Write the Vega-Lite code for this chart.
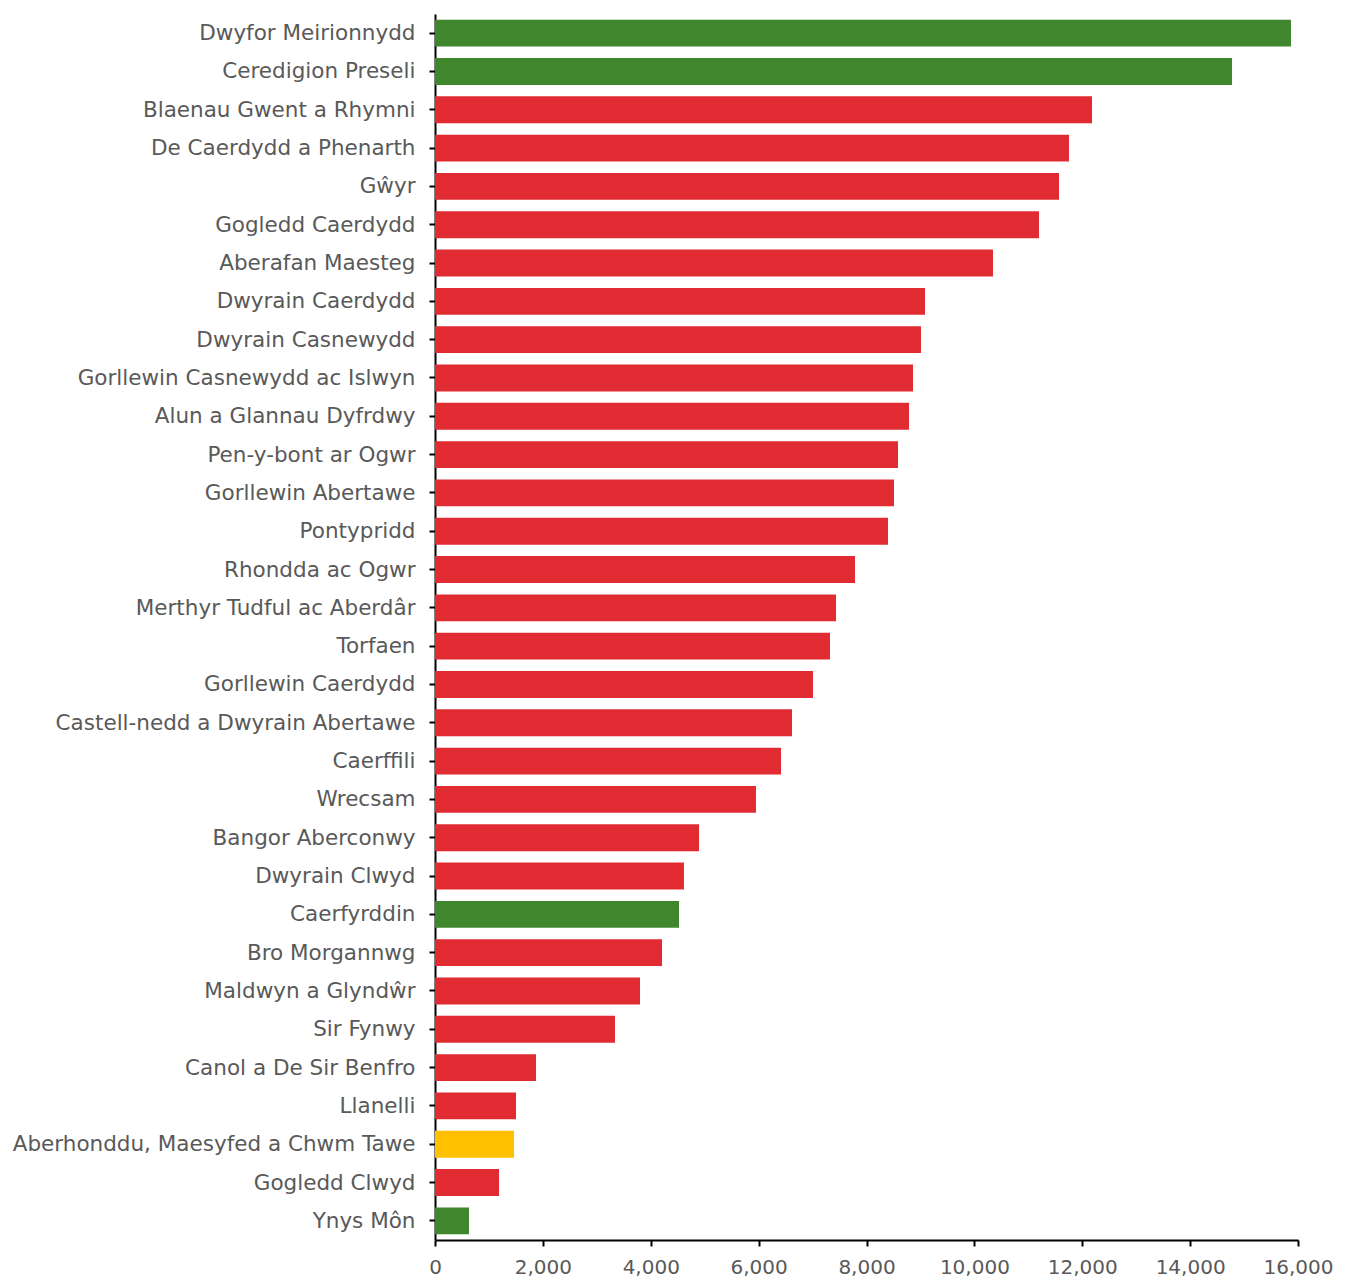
{
  "$schema": "https://vega.github.io/schema/vega-lite/v6.json",
  "width": 863,
  "height": 1226,
  "autosize": "none",
  "padding": {"left": 435, "top": 14, "right": 48, "bottom": 48},
  "background": "white",
  "config": {"view": {"stroke": null}},
  "data": {"values": [
    {"name": "Dwyfor Meirionnydd", "value": 15870, "party": "green"},
    {"name": "Ceredigion Preseli", "value": 14777, "party": "green"},
    {"name": "Blaenau Gwent a Rhymni", "value": 12181, "party": "red"},
    {"name": "De Caerdydd a Phenarth", "value": 11754, "party": "red"},
    {"name": "Gŵyr", "value": 11569, "party": "red"},
    {"name": "Gogledd Caerdydd", "value": 11198, "party": "red"},
    {"name": "Aberafan Maesteg", "value": 10345, "party": "red"},
    {"name": "Dwyrain Caerdydd", "value": 9085, "party": "red"},
    {"name": "Dwyrain Casnewydd", "value": 9010, "party": "red"},
    {"name": "Gorllewin Casnewydd ac Islwyn", "value": 8862, "party": "red"},
    {"name": "Alun a Glannau Dyfrdwy", "value": 8788, "party": "red"},
    {"name": "Pen-y-bont ar Ogwr", "value": 8584, "party": "red"},
    {"name": "Gorllewin Abertawe", "value": 8510, "party": "red"},
    {"name": "Pontypridd", "value": 8399, "party": "red"},
    {"name": "Rhondda ac Ogwr", "value": 7787, "party": "red"},
    {"name": "Merthyr Tudful ac Aberdâr", "value": 7435, "party": "red"},
    {"name": "Torfaen", "value": 7323, "party": "red"},
    {"name": "Gorllewin Caerdydd", "value": 7008, "party": "red"},
    {"name": "Castell-nedd a Dwyrain Abertawe", "value": 6619, "party": "red"},
    {"name": "Caerffili", "value": 6415, "party": "red"},
    {"name": "Wrecsam", "value": 5951, "party": "red"},
    {"name": "Bangor Aberconwy", "value": 4895, "party": "red"},
    {"name": "Dwyrain Clwyd", "value": 4616, "party": "red"},
    {"name": "Caerfyrddin", "value": 4524, "party": "green"},
    {"name": "Bro Morgannwg", "value": 4209, "party": "red"},
    {"name": "Maldwyn a Glyndŵr", "value": 3801, "party": "red"},
    {"name": "Sir Fynwy", "value": 3337, "party": "red"},
    {"name": "Canol a De Sir Benfro", "value": 1873, "party": "red"},
    {"name": "Llanelli", "value": 1502, "party": "red"},
    {"name": "Aberhonddu, Maesyfed a Chwm Tawe", "value": 1465, "party": "yellow"},
    {"name": "Gogledd Clwyd", "value": 1187, "party": "red"},
    {"name": "Ynys Môn", "value": 630, "party": "green"}
  ]},
  "mark": {"type": "bar"},
  "encoding": {
    "y": {
      "field": "name", "type": "nominal", "sort": null, "title": null,
      "scale": {"paddingInner": 0.3, "paddingOuter": 0.15},
      "axis": {"domainColor": "black", "domainWidth": 2, "tickColor": "black", "tickWidth": 2, "tickSize": 6,
               "labelFont": "DejaVu Sans", "labelFontSize": 21.5, "labelColor": "#595959", "labelPadding": 14, "labelLimit": 500, "labelOffset": 1}
    },
    "x": {
      "field": "value", "type": "quantitative", "title": null,
      "scale": {"domain": [0, 16000], "nice": false},
      "axis": {"values": [0,2000,4000,6000,8000,10000,12000,14000,16000], "format": ",d", "grid": false,
               "domainColor": "black", "domainWidth": 2, "tickColor": "black", "tickWidth": 2, "tickSize": 6,
               "labelFont": "DejaVu Sans", "labelFontSize": 20, "labelColor": "#595959", "labelPadding": 11, "labelFlush": false}
    },
    "color": {
      "field": "party", "type": "nominal", "legend": null,
      "scale": {"domain": ["green", "red", "yellow"], "range": ["#3F862C", "#E02B32", "#FFC000"]}
    }
  }
}
